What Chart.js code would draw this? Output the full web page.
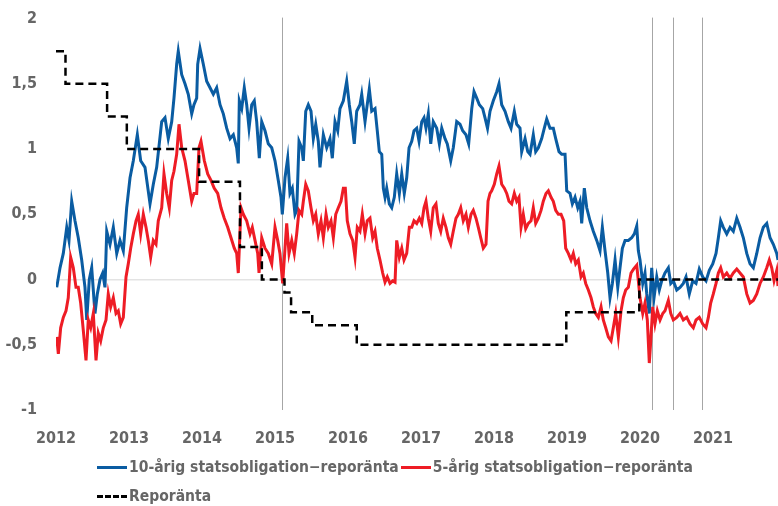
<!DOCTYPE html>
<html>
<head>
<meta charset="utf-8">
<script src="https://cdn.jsdelivr.net/npm/chart.js@4"></script>
<style>
  html,body{margin:0;padding:0;background:#fff;}
  #wrap{position:relative;width:778px;height:506px;overflow:hidden;}
  #c{position:absolute;left:0;top:-10px;}
  .lg{position:absolute;left:97px;display:flex;align-items:center;font:bold 15.5px 'Liberation Sans Narrow','DejaVu Sans Condensed',sans-serif;color:#666;white-space:nowrap;}
  .sw{display:inline-block;width:30px;height:0;border-top:3px solid;margin-right:2px;}
</style>
</head>
<body>
<div id="wrap">
  <canvas id="c" width="778" height="516"></canvas>
  <div class="lg" style="top:458px">
    <span class="sw" style="border-color:#0A5CA2"></span><span>10-årig statsobligation−reporänta</span>
    <span class="sw" style="border-color:#EE1C25;margin-left:2px"></span><span>5-årig statsobligation−reporänta</span>
  </div>
  <div class="lg" style="top:487px">
    <span class="sw" style="border-top:3px dashed #000"></span><span>Reporänta</span>
  </div>
</div>
<script>
// 10-årig statsobligation minus reporänta
const tenYearDates=[2012.010,2012.055,2012.100,2012.147,2012.178,2012.215,2012.260,2012.305,2012.352,2012.397,2012.421,2012.456,2012.489,2012.534,2012.566,2012.603,2012.640,2012.671,2012.695,2012.740,2012.785,2012.832,2012.877,2012.922,2012.968,
2013.014,2013.059,2013.114,2013.160,2013.219,2013.288,2013.333,2013.379,2013.448,2013.493,2013.538,2013.585,2013.616,2013.653,2013.675,2013.722,2013.767,2013.812,2013.859,2013.890,2013.927,2013.941,2013.973,
2014.018,2014.064,2014.110,2014.155,2014.201,2014.247,2014.292,2014.338,2014.384,2014.429,2014.475,2014.497,2014.511,2014.544,2014.579,2014.612,2014.644,2014.681,2014.716,2014.749,2014.785,2014.818,2014.863,2014.908,2014.955,
2015.000,2015.045,2015.082,2015.100,2015.137,2015.174,2015.205,2015.237,2015.274,2015.297,2015.329,2015.366,2015.388,2015.421,2015.456,2015.493,2015.525,2015.558,2015.593,2015.616,2015.662,2015.708,2015.753,2015.785,2015.822,2015.859,2015.890,2015.936,2015.982,
2016.018,2016.051,2016.086,2016.119,2016.164,2016.188,2016.233,2016.256,2016.292,2016.325,2016.370,2016.401,2016.429,2016.462,2016.484,2016.507,2016.530,2016.566,2016.599,2016.634,2016.667,2016.703,2016.736,2016.771,2016.804,2016.836,2016.873,2016.904,2016.941,2016.973,
2017.010,2017.041,2017.068,2017.100,2017.133,2017.168,2017.215,2017.251,2017.284,2017.329,2017.360,2017.407,2017.442,2017.489,2017.534,2017.571,2017.616,2017.653,2017.695,2017.726,2017.763,2017.799,2017.845,2017.877,2017.911,2017.945,2017.990,
2018.037,2018.068,2018.105,2018.151,2018.196,2018.233,2018.278,2018.311,2018.356,2018.379,2018.425,2018.462,2018.493,2018.538,2018.571,2018.607,2018.653,2018.689,2018.722,2018.767,2018.812,2018.845,2018.890,2018.927,2018.973,2018.996,
2019.041,2019.073,2019.110,2019.147,2019.178,2019.201,2019.237,2019.270,2019.315,2019.360,2019.407,2019.452,2019.484,2019.521,2019.558,2019.589,2019.621,2019.658,2019.695,2019.726,2019.758,2019.795,2019.840,2019.886,2019.922,2019.955,2019.977,
2020.000,2020.037,2020.068,2020.092,2020.127,2020.160,2020.192,2020.229,2020.264,2020.297,2020.342,2020.388,2020.421,2020.456,2020.503,2020.548,2020.593,2020.630,2020.675,2020.722,2020.767,2020.812,2020.859,2020.904,2020.949,2020.996,
2021.041,2021.073,2021.105,2021.141,2021.188,2021.233,2021.278,2021.325,2021.370,2021.415,2021.462,2021.507,2021.552,2021.599,2021.644,2021.689,2021.736,2021.781,2021.826,2021.873,2021.890];
const tenYearSpread=[-0.06,0.09,0.20,0.40,0.30,0.60,0.45,0.32,0.15,-0.06,-0.31,0.00,0.09,-0.26,-0.11,0.00,0.05,-0.06,0.37,0.27,0.40,0.20,0.30,0.22,0.55,
0.78,0.91,1.11,0.91,0.86,0.58,0.73,0.86,1.21,1.24,1.08,1.21,1.39,1.65,1.75,1.57,1.50,1.42,1.27,1.34,1.39,1.65,1.77,
1.65,1.52,1.47,1.42,1.47,1.34,1.27,1.16,1.08,1.11,1.01,0.89,1.37,1.31,1.47,1.34,1.16,1.34,1.37,1.21,0.93,1.21,1.14,1.04,1.01,
0.91,0.76,0.63,0.50,0.78,0.93,0.66,0.70,0.50,0.53,1.06,1.01,0.91,1.29,1.34,1.29,1.08,1.19,1.06,0.86,1.11,1.01,1.08,0.93,1.21,1.14,1.31,1.37,1.52,
1.34,1.21,1.04,1.29,1.34,1.42,1.21,1.31,1.46,1.29,1.31,1.14,0.98,0.96,0.70,0.63,0.70,0.58,0.55,0.63,0.81,0.66,0.81,0.66,0.78,1.01,1.06,1.14,1.16,1.06,
1.21,1.24,1.16,1.27,1.04,1.21,1.16,1.04,1.16,1.08,1.04,0.91,1.01,1.21,1.19,1.14,1.11,1.04,1.31,1.44,1.39,1.34,1.31,1.24,1.16,1.29,1.37,
1.44,1.50,1.34,1.29,1.21,1.16,1.29,1.19,1.16,0.98,1.08,0.98,0.96,1.11,0.98,1.01,1.08,1.16,1.23,1.16,1.16,1.08,0.98,0.96,0.96,0.68,
0.66,0.58,0.63,0.55,0.60,0.43,0.70,0.55,0.45,0.37,0.30,0.22,0.40,0.22,0.05,-0.14,-0.03,0.15,-0.06,0.09,0.24,0.30,0.30,0.32,0.35,0.41,0.22,
0.15,-0.03,0.05,-0.11,-0.26,0.09,-0.14,0.02,-0.08,-0.01,0.05,0.09,-0.03,-0.01,-0.08,-0.06,-0.03,0.02,-0.11,-0.01,-0.03,0.08,0.02,-0.01,0.07,0.12,
0.20,0.32,0.45,0.40,0.35,0.40,0.37,0.47,0.40,0.32,0.20,0.12,0.09,0.20,0.32,0.40,0.43,0.32,0.27,0.20,0.15];

// 5-årig statsobligation minus reporänta
const fiveYearDates=[2012.010,2012.032,2012.064,2012.100,2012.137,2012.168,2012.201,2012.237,2012.274,2012.305,2012.338,2012.374,2012.411,2012.442,2012.475,2012.511,2012.548,2012.579,2012.612,2012.648,2012.685,2012.716,2012.749,2012.785,2012.822,2012.853,2012.886,2012.922,2012.959,2012.990,
2013.023,2013.059,2013.096,2013.127,2013.160,2013.196,2013.233,2013.264,2013.297,2013.333,2013.370,2013.401,2013.448,2013.479,2013.516,2013.552,2013.585,2013.616,2013.653,2013.685,2013.722,2013.767,2013.812,2013.859,2013.890,2013.927,2013.959,2013.986,
2014.032,2014.078,2014.123,2014.168,2014.215,2014.260,2014.305,2014.352,2014.397,2014.442,2014.475,2014.497,2014.534,2014.566,2014.612,2014.658,2014.689,2014.726,2014.763,2014.781,2014.818,2014.863,2014.908,2014.955,
2015.000,2015.037,2015.068,2015.105,2015.137,2015.160,2015.192,2015.229,2015.264,2015.297,2015.329,2015.366,2015.388,2015.421,2015.456,2015.493,2015.525,2015.558,2015.593,2015.630,2015.662,2015.699,2015.730,2015.767,2015.799,2015.832,2015.867,2015.904,2015.936,2015.963,2015.990,
2016.027,2016.064,2016.096,2016.127,2016.164,2016.196,2016.233,2016.264,2016.301,2016.338,2016.370,2016.401,2016.438,2016.475,2016.507,2016.538,2016.575,2016.612,2016.644,2016.667,2016.703,2016.736,2016.767,2016.804,2016.840,2016.873,2016.904,2016.941,2016.977,
2017.010,2017.041,2017.068,2017.100,2017.133,2017.168,2017.205,2017.237,2017.270,2017.305,2017.342,2017.374,2017.407,2017.442,2017.479,2017.511,2017.544,2017.579,2017.616,2017.648,2017.685,2017.716,2017.753,2017.785,2017.818,2017.853,2017.890,2017.918,2017.945,2017.968,
2018.004,2018.037,2018.068,2018.105,2018.141,2018.174,2018.205,2018.242,2018.278,2018.311,2018.342,2018.370,2018.401,2018.434,2018.470,2018.507,2018.538,2018.571,2018.607,2018.644,2018.675,2018.712,2018.744,2018.781,2018.812,2018.845,2018.881,2018.918,2018.955,2018.982,
2019.018,2019.055,2019.086,2019.119,2019.155,2019.192,2019.223,2019.256,2019.292,2019.329,2019.360,2019.393,2019.429,2019.466,2019.497,2019.530,2019.566,2019.603,2019.634,2019.667,2019.703,2019.740,2019.771,2019.804,2019.840,2019.877,2019.911,2019.955,2019.977,
2020.000,2020.037,2020.068,2020.100,2020.127,2020.147,2020.174,2020.205,2020.237,2020.274,2020.311,2020.342,2020.388,2020.421,2020.456,2020.503,2020.548,2020.593,2020.640,2020.685,2020.730,2020.767,2020.812,2020.859,2020.904,2020.936,2020.968,
2021.004,2021.041,2021.073,2021.105,2021.141,2021.188,2021.233,2021.278,2021.325,2021.370,2021.415,2021.462,2021.507,2021.552,2021.599,2021.644,2021.689,2021.736,2021.771,2021.804,2021.836,2021.873,2021.890];
const fiveYearSpread=[-0.44,-0.57,-0.37,-0.29,-0.24,-0.14,0.17,0.09,-0.06,-0.06,-0.18,-0.39,-0.62,-0.31,-0.37,-0.26,-0.62,-0.41,-0.47,-0.37,-0.31,-0.11,-0.21,-0.14,-0.26,-0.24,-0.34,-0.29,0.02,0.12,
0.24,0.35,0.45,0.50,0.35,0.50,0.40,0.30,0.17,0.30,0.27,0.45,0.55,0.81,0.66,0.55,0.76,0.83,0.96,1.19,1.01,0.91,0.76,0.60,0.66,0.66,1.01,1.06,
0.91,0.81,0.76,0.70,0.66,0.55,0.47,0.40,0.32,0.24,0.20,0.05,0.55,0.50,0.45,0.35,0.40,0.30,0.20,0.05,0.32,0.24,0.20,0.12,
0.40,0.30,0.20,-0.03,0.24,0.43,0.20,0.30,0.20,0.35,0.53,0.50,0.60,0.73,0.68,0.55,0.45,0.50,0.35,0.45,0.32,0.50,0.40,0.45,0.32,0.50,0.55,0.60,0.70,0.70,0.45,
0.35,0.30,0.17,0.40,0.37,0.50,0.35,0.45,0.47,0.32,0.37,0.24,0.15,0.05,-0.02,0.02,-0.03,-0.01,-0.02,0.30,0.17,0.24,0.15,0.20,0.40,0.40,0.45,0.43,0.47,
0.43,0.55,0.60,0.47,0.37,0.55,0.58,0.43,0.37,0.47,0.40,0.32,0.27,0.37,0.47,0.50,0.55,0.45,0.50,0.40,0.50,0.53,0.47,0.40,0.32,0.24,0.27,0.60,0.66,0.68,
0.73,0.81,0.87,0.73,0.70,0.66,0.60,0.58,0.66,0.60,0.63,0.40,0.50,0.39,0.43,0.45,0.55,0.43,0.47,0.53,0.60,0.66,0.68,0.63,0.60,0.53,0.50,0.50,0.45,0.24,
0.20,0.15,0.20,0.12,0.15,0.02,0.05,-0.03,-0.08,-0.14,-0.21,-0.26,-0.29,-0.21,-0.31,-0.37,-0.44,-0.47,-0.37,-0.26,-0.44,-0.24,-0.14,-0.08,-0.06,0.05,0.08,0.11,-0.01,
-0.14,-0.26,-0.18,-0.31,-0.64,-0.47,-0.21,-0.34,-0.24,-0.31,-0.26,-0.24,-0.16,-0.26,-0.31,-0.29,-0.26,-0.31,-0.29,-0.34,-0.37,-0.31,-0.29,-0.34,-0.37,-0.29,-0.18,
-0.11,-0.03,0.05,0.09,0.02,0.05,0.01,0.05,0.08,0.05,0.02,-0.11,-0.18,-0.16,-0.11,-0.03,0.02,0.09,0.15,0.09,-0.01,0.07,-0.05];

// Reporänta: datum för beslut och ny nivå
const repoDates=[2012.00,2012.13,2012.70,2012.97,2013.96,2014.52,2014.82,2015.13,2015.22,2015.51,2016.12,2018.99,2019.99,2021.89];
const repoRate=[1.75,1.50,1.25,1.00,0.75,0.25,0.00,-0.10,-0.25,-0.35,-0.50,-0.25,0.00,0.00];

// vertikala markeringar
const markerDates=[2015.10,2020.164,2020.452,2020.849];

const yearTicks=[2012,2013,2014,2015,2016,2017,2018,2019,2020,2021];

const FONT="'Liberation Sans Narrow','DejaVu Sans Condensed',sans-serif";
const pts=(xs,ys)=>xs.map((x,i)=>({x:x,y:ys[i]}));

const markers={
  id:'markers',
  beforeDatasetsDraw(chart){
    const {ctx,chartArea,scales:{x}}=chart;
    ctx.save();
    ctx.strokeStyle='#a6a6a6';ctx.lineWidth=1;
    markerDates.forEach(d=>{
      const px=Math.round(x.getPixelForValue(d))+0.5;
      ctx.beginPath();ctx.moveTo(px,chartArea.top-1);ctx.lineTo(px,chartArea.bottom);ctx.stroke();
    });
    ctx.restore();
  }
};

new Chart(document.getElementById('c'),{
  type:'line',
  data:{datasets:[
    {label:'10-årig statsobligation−reporänta',data:pts(tenYearDates,tenYearSpread),borderColor:'#0A5CA2',borderWidth:3,pointRadius:0,tension:0,order:2},
    {label:'5-årig statsobligation−reporänta',data:pts(fiveYearDates,fiveYearSpread),borderColor:'#EE1C25',borderWidth:3,pointRadius:0,tension:0,order:1},
    {label:'Reporänta',data:pts(repoDates,repoRate),borderColor:'#000',borderWidth:2.5,borderDash:[8,5],pointRadius:0,stepped:'before',order:0}
  ]},
  options:{
    responsive:false,animation:false,
    layout:{padding:{top:-2,right:0,left:0,bottom:0}},
    plugins:{legend:{display:false},tooltip:{enabled:false}},
    scales:{
      x:{type:'linear',min:2012,max:2021.89,
        afterBuildTicks(s){s.ticks=yearTicks.map(v=>({value:v}));},
        afterFit(s){s.height=96;},
        grid:{display:false,drawTicks:false},border:{display:false},
        ticks:{padding:19,color:'#666',font:{family:FONT,size:16,weight:'bold'},maxRotation:0,autoSkip:false,callback:v=>String(v)}
      },
      y:{min:-1,max:2,
        afterFit(s){s.width=56;},
        grid:{drawTicks:false,color:c=>c.tick.value===0?'#e3e3e3':'rgba(0,0,0,0)',lineWidth:1.5},border:{display:false},
        ticks:{stepSize:0.5,padding:19,color:'#666',font:{family:FONT,size:16,weight:'bold'},callback:v=>String(v).replace('.',',')}
      }
    }
  },
  plugins:[markers]
});
</script>
</body>
</html>
